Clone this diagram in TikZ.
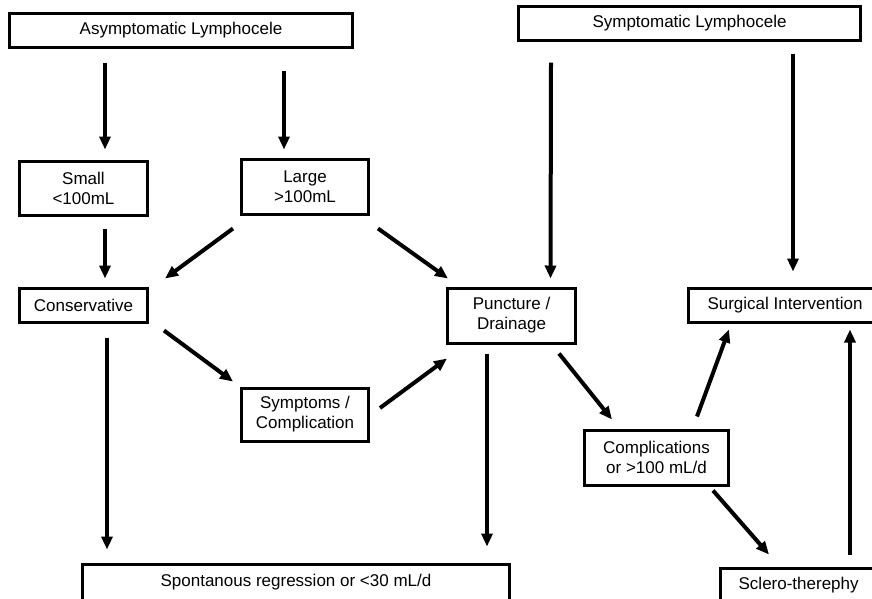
\documentclass[tikz,border=0pt]{standalone}
\usepackage{fontspec}
\setmainfont{Liberation Sans}
\usetikzlibrary{arrows.meta,calc}

\tikzset{
  box/.style={draw,line width=3pt,inner sep=0pt,align=center,
    font=\fontsize{17}{20}\selectfont},
  arr/.style={line width=4pt,-{Triangle[length=13pt,width=11pt]}}
}

\begin{document}
\begin{tikzpicture}[x=1pt,y=-1pt]
\useasboundingbox (0,0) rectangle (872,598);
\clip (0,0) rectangle (872,598);
\foreach \n/\x/\w/\h/\l in{
asym/{(181,30)}/343/34/{Asymptomatic Lymphocele},
symp/{(689.5,23)}/342/34/{Symptomatic Lymphocele},
small/{(83.5,188)}/128/54/{Small\\<100mL},
large/{(305,186.5)}/127/55/{Large\\>100mL},
cons/{(83.5,305)}/128/34/{Conservative},
punc/{(511.5,315.5)}/128/55/{Puncture /\\Drainage},
surg/{(785,305)}/193/34/{Surgical Intervention},
sympc/{(305,414.5)}/127/53/{Symptoms /\\Complication},
compl/{(656.5,457.5)}/144/55/{Complications\\or >100 mL/d},
spont/{(296,582)}/427/36/{Spontanous regression or <30 mL/d},
sclero/{(801,585)}/161/34/{Sclero-therephy}
}
{
        \node[box,minimum width=\w pt,minimum height=\h pt] (\n) at \x {\l};
    }
\draw[arr] ($(small.north |- asym.south)+(21.5,14)$) -- ($(small.north)+(21.5,-10)$);
\draw[arr] ($(large.north |- asym.south)+(-21,22)$) -- ($(large.north)+(-21,-8)$);
\draw[arr] ($(small.south)+(21.5,12)$) -- ($(cons.north)+(21.5,-8)$);
\draw[arr] ($(large.south west)+(-7,13)$) -- ($(cons.north east)+(16,-8)$);
\draw[arr] ($(large.south east)+(8,13)$) -- ($(punc.north west)+(2,-8)$);
\draw[arr] ($(cons.south east)+(15,7)$) -- ($(sympc.north west)+(-7,-5)$);
\draw[arr] ($(sympc.east)+(10,-6.5)$) -- ($(punc.south west)+(1,14)$);
\draw[arr] ($(cons.south)+(23.5,14)$) -- ($(spont.north west)+(26,-13)$);
\draw[arr] ($(punc.south)+(-24.5,9)$) -- ($(spont.north east)+(-24,-16)$);
\draw[arr] ($(punc.south east)+(-18,9)$) -- ($(compl.north west)+(29,-9)$);
\draw[arr] ($(symp.south west)+(34,21)$) -- ($(punc.north)+(39,-8)$);
\draw[arr] ($(symp.south)+(103.5,12)$) -- ($(surg.north)+(8,-15)$);
\draw[arr] ($(compl.north east)+(-33,-12)$) -- ($(surg.south west)+(42,6)$);
\draw[arr] ($(compl.south east)+(-17,4)$) -- ($(sclero.north west)+(50,-12)$);
\draw[arr] ($(sclero.north)+(49,-12)$) -- ($(surg.south)+(65,6)$);
\end{tikzpicture}
\end{document}
